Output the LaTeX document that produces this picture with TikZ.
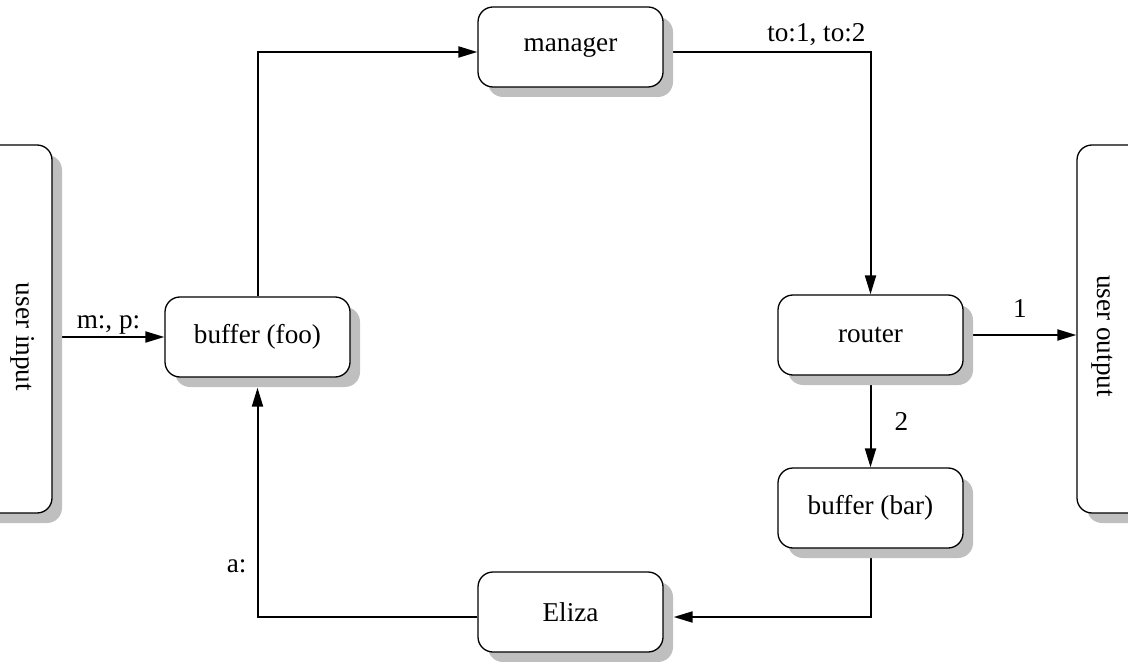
\documentclass[tikz,border=0pt]{standalone}
\usepackage{fontspec}
\setmainfont{Liberation Serif}
\usetikzlibrary{arrows.meta,shadows,backgrounds}

\tikzset{
  block/.style={draw,line width=0.65pt,rounded corners=7.5pt,fill=white,
    minimum width=92.5pt,minimum height=40pt,inner sep=0pt,
    drop shadow={shadow xshift=5pt,shadow yshift=-5pt,fill=black!25,opacity=1}},
  side/.style={block,minimum width=46pt,minimum height=184pt},
  flow/.style={line width=1pt,-{Triangle[length=9.5pt,width=5.5pt]}},
  lbl/.style={inner sep=0pt}
}

\begin{document}
\begin{tikzpicture}[x=0.5pt,y=-0.5pt,font=\fontsize{13.6}{16}\selectfont]
\useasboundingbox (0,0) rectangle (1128,662);
% boxes
\node[side] (uin) at (6,329) {};
\node[side] (uout) at (1123,329) {};
\node[lbl,rotate=-90] (uintxt) at (23,337) {user input};
\node[lbl,rotate=-90] (uouttxt) at (1102,336) {user output};
\node[block] (bfoo) at (257.5,337) {buffer (foo)};
\node[block] (mgr) at (570.5,47) {manager};
\node[block] (rtr) at (870.5,335) {router};
\node[block] (bbar) at (870.5,508) {buffer (bar)};
\node[block] (eliza) at (570.5,612) {Eliza};
% connectors, behind the boxes
\begin{scope}[on background layer]
\draw[flow] (uin.east |- bfoo.west) -- (bfoo.west) node[lbl,midway,above=1pt] {m:, p:};
\draw[flow] (bfoo.north) |- ([yshift=-2.5pt]mgr.west);
\draw[flow] ([yshift=-2.5pt]mgr.east) -| (rtr.north) node[lbl,pos=.5,anchor=south east,xshift=-2pt,yshift=2.5pt] {to:1, to:2};
\draw[flow] (rtr.east) -- (uout.west |- rtr.east) node[lbl,midway,above=8pt] {1};
\draw[flow] (rtr.south) -- (bbar.north) node[lbl,midway,right=11.5pt] {2};
\draw[flow] (bbar.south) |- ([xshift=5pt,yshift=-2.5pt]eliza.east);
\draw[flow] ([yshift=-2.5pt]eliza.west) -| ([yshift=-5pt]bfoo.south) node[lbl,pos=.61,left=5pt] {a:};
\end{scope}
\end{tikzpicture}
\end{document}
